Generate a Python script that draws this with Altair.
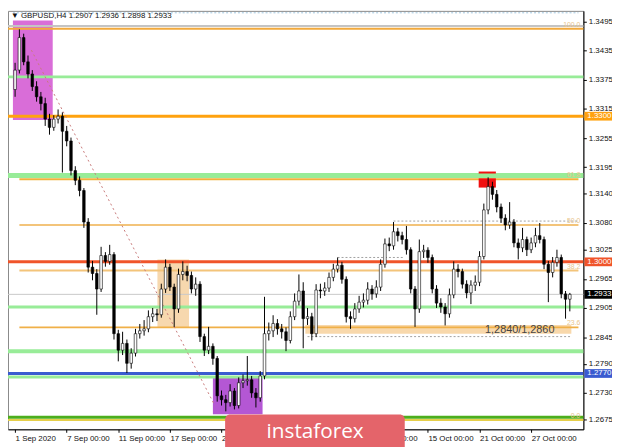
import altair as alt
import pandas as pd

# ---------------- data ----------------
first_open = 1.3355
closes = [
    1.3395, 1.3462, 1.3412, 1.3387, 1.3361, 1.3340, 1.3326, 1.3294, 1.3277, 1.3294,
    1.3300, 1.3269, 1.3249, 1.3188, 1.3168, 1.3147, 1.3082, 1.2989, 1.2976, 1.2944,
    1.3013, 1.3001, 1.3015, 1.2852, 1.2818, 1.2832, 1.2791, 1.2812, 1.2852, 1.2858,
    1.2862, 1.2887, 1.2893, 1.2891, 1.2944, 1.2989, 1.2948, 1.2903, 1.2974, 1.2980,
    1.2972, 1.2944, 1.2954, 1.2846, 1.2818, 1.2826, 1.2801, 1.2724, 1.2716, 1.2710,
    1.2734, 1.2704, 1.2751, 1.2755, 1.2757, 1.2730, 1.2720, 1.2765, 1.2852, 1.2858,
    1.2873, 1.2862, 1.2856, 1.2838, 1.2887, 1.2919, 1.2940, 1.2883, 1.2887, 1.2852,
    1.2942, 1.2940, 1.2946, 1.2968, 1.2985, 1.2993, 1.2964, 1.2887, 1.2883, 1.2903,
    1.2917, 1.2921, 1.2944, 1.2934, 1.2948, 1.2995, 1.3037, 1.3033, 1.3062, 1.3054,
    1.3046, 1.3025, 1.2944, 1.2903, 1.3021, 1.3024, 1.3009, 1.2944, 1.2915, 1.2907,
    1.2893, 1.2932, 1.2985, 1.2980, 1.2954, 1.2936, 1.2952, 1.2958, 1.3011, 1.3107,
    1.3155, 1.3139, 1.3113, 1.3090, 1.3076, 1.3082, 1.3039, 1.3029, 1.3046, 1.3025,
    1.3039, 1.3054, 1.3046, 1.2995, 1.2978, 1.2999, 1.3009, 1.2934, 1.2923, 1.2933,
]
highs = [
    1.3410, 1.3479, 1.3470, 1.3425, 1.3395, 1.3372, 1.3350, 1.3338, 1.3305, 1.3302,
    1.3314, 1.3308, 1.3280, 1.3256, 1.3197, 1.3176, 1.3152, 1.3090, 1.3002, 1.2985,
    1.3031, 1.3020, 1.3035, 1.3020, 1.2860, 1.2856, 1.2840, 1.2822, 1.2862, 1.2872,
    1.2880, 1.2900, 1.2905, 1.2903, 1.2955, 1.3005, 1.2996, 1.2955, 1.2986, 1.3001,
    1.2992, 1.2980, 1.2968, 1.2960, 1.2852, 1.2866, 1.2832, 1.2806, 1.2735, 1.2726,
    1.2748, 1.2740, 1.2762, 1.2768, 1.2806, 1.2765, 1.2740, 1.2775, 1.2928, 1.2875,
    1.2890, 1.2882, 1.2872, 1.2865, 1.2898, 1.2935, 1.2974, 1.2958, 1.2905, 1.2895,
    1.2954, 1.2955, 1.2958, 1.2978, 1.2996, 1.3009, 1.3000, 1.2970, 1.2898, 1.2915,
    1.2930, 1.2935, 1.2958, 1.2952, 1.2962, 1.3005, 1.3048, 1.3050, 1.3082, 1.3070,
    1.3062, 1.3074, 1.3030, 1.2950, 1.3046, 1.3035, 1.3030, 1.3015, 1.2952, 1.2925,
    1.2915, 1.2945, 1.3001, 1.2995, 1.2986, 1.2962, 1.2962, 1.2972, 1.3022, 1.3120,
    1.3174, 1.3165, 1.3148, 1.3120, 1.3098, 1.3123, 1.3088, 1.3048, 1.3070, 1.3052,
    1.3050, 1.3070, 1.3080, 1.3052, 1.3002, 1.3010, 1.3025, 1.3015, 1.2940, 1.2936,
]
lows = [
    1.3340, 1.3388, 1.3405, 1.3378, 1.3352, 1.3330, 1.3312, 1.3280, 1.3262, 1.3270,
    1.3285, 1.3184, 1.3238, 1.3178, 1.3158, 1.3135, 1.3070, 1.2978, 1.2962, 1.2891,
    1.2938, 1.2990, 1.2994, 1.2840, 1.2795, 1.2808, 1.2771, 1.2780, 1.2805, 1.2842,
    1.2848, 1.2855, 1.2876, 1.2878, 1.2885, 1.2936, 1.2940, 1.2866, 1.2895, 1.2962,
    1.2960, 1.2935, 1.2930, 1.2835, 1.2806, 1.2810, 1.2788, 1.2712, 1.2704, 1.2692,
    1.2702, 1.2696, 1.2698, 1.2740, 1.2745, 1.2720, 1.2700, 1.2712, 1.2758, 1.2838,
    1.2845, 1.2850, 1.2842, 1.2816, 1.2832, 1.2880, 1.2910, 1.2822, 1.2870, 1.2838,
    1.2845, 1.2925, 1.2930, 1.2938, 1.2960, 1.2978, 1.2955, 1.2875, 1.2862, 1.2875,
    1.2895, 1.2906, 1.2912, 1.2922, 1.2926, 1.2940, 1.2988, 1.3022, 1.3025, 1.3042,
    1.3036, 1.3015, 1.2935, 1.2866, 1.2895, 1.3008, 1.2998, 1.2935, 1.2905, 1.2895,
    1.2869, 1.2885, 1.2925, 1.2968, 1.2945, 1.2925, 1.2913, 1.2940, 1.2950, 1.3005,
    1.3098, 1.3128, 1.3102, 1.3080, 1.3065, 1.3068, 1.3030, 1.3005, 1.3020, 1.3012,
    1.3018, 1.3030, 1.3038, 1.2985, 1.2917, 1.2968, 1.2990, 1.2925, 1.2883, 1.2898,
]

date_ticks = [0, 24, 48, 72, 96, 120, 144, 168, 192, 216, 240]
date_labels = ["1 Sep 2020", "7 Sep 00:00", "11 Sep 00:00", "17 Sep 00:00",
               "23 Sep 00:00", "29 Sep 00:00", "5 Oct 00:00", "9 Oct 00:00",
               "15 Oct 00:00", "21 Oct 00:00", "27 Oct 00:00"]
price_ticks = [1.3495, 1.3435, 1.3375, 1.3315, 1.3255, 1.3195, 1.3140, 1.3080,
               1.3025, 1.2965, 1.2905, 1.2845, 1.2790, 1.2730, 1.2675]

# full width levels
lvl_price = [1.3486, 1.3480, 1.3381, 1.3300, 1.3178, 1.3000, 1.2933, 1.2907,
             1.2816, 1.2770, 1.2763, 1.2680, 1.2674]
lvl_color = ["#c4c4c4", "#f2a93b", "#98ec98", "#ffa20f", "#98ec98", "#f0542a",
             "#c8c8c8", "#98ec98", "#98ec98", "#3a5bd0", "#98ec98", "#4cae1c", "#e6cf4a"]
lvl_width = [2, 2, 3, 3, 5, 3, 1, 3, 4, 3, 3, 3, 2]

# fibo lines
fib_price = [1.3170, 1.3076, 1.2982, 1.2865]
fib_color = ["#f0b23c", "#f3c47a", "#f3c47a", "#f0b048"]
fib_text = ["100.0", "61.8", "50.0", "38.2", "23.6", "0.0"]
fib_text_price = [1.3480, 1.3170, 1.3076, 1.2982, 1.2865, 1.2674]

# dotted segments
dot_price = [1.3513, 1.3084, 1.3009, 1.2846]
dot_x1 = [-1, 176, 150, 136]
dot_x2 = [262, 262, 181, 259]
dot_color = ["#9fc6e0", "#a0a0a0", "#a0a0a0", "#a0a0a0"]

# zones
zone_x1 = [-1, 66.2, 92, 135]
zone_x2 = [17.5, 80.9, 115.1, 258.7]
zone_p1 = [1.3497, 1.3005, 1.2765, 1.2852]
zone_p2 = [1.3292, 1.2866, 1.2686, 1.2870]
zone_fill = ["#d765d6", "#f7d6aa", "#b04ed2", "#f8d6a6"]

diag_x = [7.6, 92.9]
diag_p = [1.3436, 1.2704]

hl_price = [1.3300, 1.3000, 1.2933, 1.2770]
hl_fill = ["#ffa20f", "#f0542a", "#000000", "#3a5bd0"]
hl_label = ["1.3300", "1.3000", "1.2933", "1.2770"]

# ---------------- chart ----------------
W, H = 583, 424
xs = alt.Scale(domain=[-1, 262], nice=False, zero=False)
ys = alt.Scale(domain=[1.2655, 1.3517], nice=False, zero=False)
FONT = "Liberation Sans"

x_axis = alt.Axis(values=date_ticks,
                  labelExpr="[" + ",".join("'%s'" % s for s in date_labels) + "][round(datum.value/24)]",
                  labelAlign="left", labelBaseline="top", labelFontSize=8, labelFont=FONT,
                  labelColor="#111", labelPadding=2, tickSize=3, tickColor="#000",
                  domainColor="#000", grid=False, title=None, labelFlush=False, labelOverlap=False)
y_axis = alt.Axis(orient="right", values=price_ticks, format=".4f", labelFontSize=8, labelFont=FONT,
                  labelColor="#111", labelPadding=2, tickSize=3, tickColor="#000",
                  domainColor="#000", grid=False, title=None, labelFlush=False, labelOverlap=False)


def X(f):
    return alt.X(f, type="quantitative", scale=xs, axis=x_axis, title=None)


def Y(f):
    return alt.Y(f, type="quantitative", scale=ys, axis=y_axis, title=None)


opens = [first_open] + closes[:-1]
cd = pd.DataFrame({
    "idx": [2 * k for k in range(len(closes))],
    "open": opens, "close": closes, "high": highs, "low": lows,
})
cd["fill"] = ["#ffffff" if c >= o else "#000000" for o, c in zip(opens, closes)]

zones = pd.DataFrame({"x1": zone_x1, "x2": zone_x2, "p1": zone_p1, "p2": zone_p2, "fill": zone_fill})
zone_layer = alt.Chart(zones).mark_rect(opacity=0.95).encode(
    x=X("x1"), x2="x2", y=Y("p1"), y2="p2", fill=alt.Fill("fill:N", scale=None))

lv = pd.DataFrame({"p": lvl_price, "c": lvl_color, "w": lvl_width})
lvl_layer = alt.Chart(lv).mark_rule().encode(
    x=alt.value(0), x2=alt.value(W), y=Y("p"),
    color=alt.Color("c:N", scale=None), strokeWidth=alt.StrokeWidth("w:Q", scale=None))

fb = pd.DataFrame({"p": fib_price, "c": fib_color, "x1": [2] * 4, "x2": [262] * 4})
fib_layer = alt.Chart(fb).mark_rule(strokeWidth=2).encode(
    x=X("x1"), x2="x2", y=Y("p"), color=alt.Color("c:N", scale=None))

dt = pd.DataFrame({"p": dot_price, "x1": dot_x1, "x2": dot_x2, "c": dot_color})
dot_layer = alt.Chart(dt).mark_rule(strokeWidth=1, strokeDash=[2, 2]).encode(
    x=X("x1"), x2="x2", y=Y("p"), color=alt.Color("c:N", scale=None))

dg = pd.DataFrame({"x": diag_x, "p": diag_p})
diag_layer = alt.Chart(dg).mark_line(strokeWidth=1, strokeDash=[2, 3], color="#c87a7a").encode(
    x=X("x"), y=Y("p"))

red = pd.DataFrame({"x1": [215.6], "x2": [223.6], "p1": [1.3153], "p2": [1.3172], "pl": [1.3184]})
red_rect = alt.Chart(red).mark_rect(color="#f01010").encode(x=X("x1"), x2="x2", y=Y("p1"), y2="p2")
red_line = alt.Chart(red).mark_rule(color="#f01010", strokeWidth=2).encode(x=X("x1"), x2="x2", y=Y("pl"))

wick_layer = alt.Chart(cd).mark_rule(color="#000", strokeWidth=1).encode(
    x=X("idx"), y=Y("low"), y2="high")
body_layer = alt.Chart(cd).mark_bar(width=2.6, stroke="#000", strokeWidth=0.6).encode(
    x=X("idx"), y=Y("open"), y2="close",
    fill=alt.Fill("fill:N", scale=None))

ft = pd.DataFrame({"p": fib_text_price, "t": fib_text})
fib_txt = alt.Chart(ft).mark_text(align="right", baseline="bottom", fontSize=7, font=FONT,
                                   color="#e8c48c", dy=-1).encode(
    x=alt.value(W - 3), y=Y("p"), text="t:N")

band_txt = alt.Chart(pd.DataFrame({"x": [234.7], "p": [1.2860], "t": ["1,2840/1,2860"]})).mark_text(
    fontSize=11, font=FONT, color="#444").encode(x=X("x"), y=Y("p"), text="t:N")

hl = pd.DataFrame({"p": hl_price, "f": hl_fill, "t": hl_label})
hl["lo"] = [p - 0.0009 for p in hl_price]
hl["hi"] = [p + 0.0009 for p in hl_price]
hl_box = alt.Chart(hl).mark_rect().encode(
    x=alt.value(W + 1), x2=alt.value(W + 30), y=Y("lo"), y2="hi", fill=alt.Fill("f:N", scale=None))
hl_txt = alt.Chart(hl).mark_text(align="left", baseline="middle", fontSize=8, font=FONT,
                                  color="#ffffff").encode(
    x=alt.value(W + 4), y=Y("p"), text="t:N")

title_txt = alt.Chart(pd.DataFrame({"t": ["\u25bc  GBPUSD,H4  1.2907 1.2936 1.2898 1.2933"]})).mark_text(
    align="left", baseline="top", fontSize=8, font=FONT, color="#111").encode(
    x=alt.value(3), y=alt.value(1), text="t:N")

wm = pd.DataFrame({"t": ["instaforex"]})
wm_box = alt.Chart(wm).mark_rect(color="#e4646a", cornerRadius=5).encode(
    x=alt.value(220), x2=alt.value(402), y=alt.value(409), y2=alt.value(450))
wm_txt = alt.Chart(wm).mark_text(align="left", baseline="alphabetic", fontSize=21,
                                 font="Open Sans", color="#ffffff").encode(
    x=alt.value(262), y=alt.value(433), text="t:N")

chart = alt.layer(
    zone_layer, lvl_layer, fib_layer, dot_layer, diag_layer, red_rect, red_line,
    wick_layer, body_layer, fib_txt, band_txt, hl_box, hl_txt, title_txt, wm_box, wm_txt
).properties(
    width=W, height=H,
    padding={"left": 0, "top": 0, "right": 29, "bottom": 15},
    autosize=alt.AutoSizeParams(type="none"),
    background="#ffffff",
).configure_view(stroke="#888", strokeWidth=1)

chart.save("out.html", embed_options={"renderer": "svg", "actions": False})
